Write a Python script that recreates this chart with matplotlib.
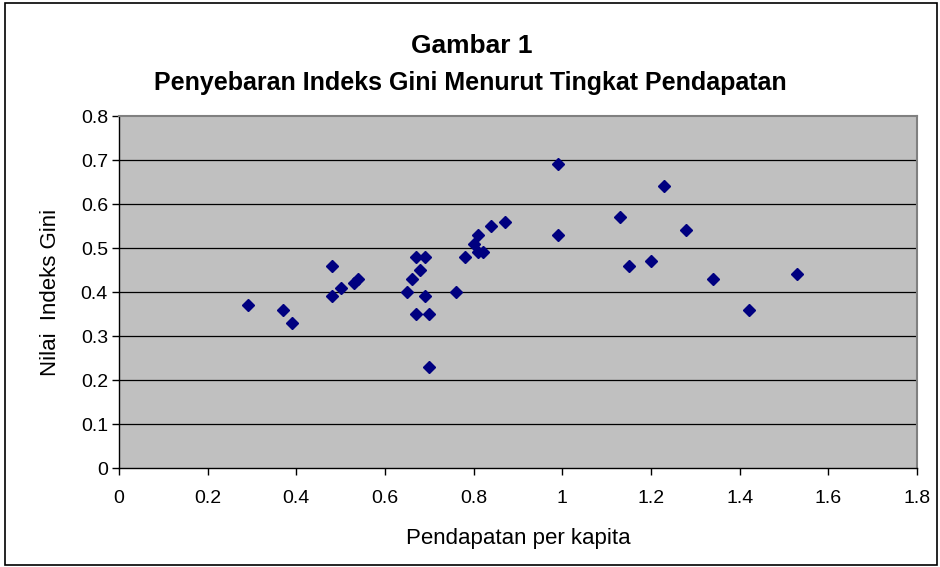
import matplotlib
matplotlib.use("Agg")
import matplotlib.pyplot as plt
from matplotlib.patches import Rectangle

plt.rcParams['font.family'] = ['Liberation Sans', 'DejaVu Sans']

income = [0.29, 0.37, 0.39, 0.48, 0.48, 0.50, 0.54, 0.53, 0.65, 0.67, 0.69, 0.68,
          0.66, 0.69, 0.67, 0.70, 0.70, 0.76, 0.78, 0.80, 0.81, 0.82, 0.81, 0.84,
          0.87, 0.99, 0.99, 1.13, 1.23, 1.28, 1.15, 1.20, 1.34, 1.42, 1.53]
gini = [0.37, 0.36, 0.33, 0.46, 0.39, 0.41, 0.43, 0.42, 0.40, 0.48, 0.48, 0.45,
        0.43, 0.39, 0.35, 0.35, 0.23, 0.40, 0.48, 0.51, 0.49, 0.49, 0.53, 0.55,
        0.56, 0.69, 0.53, 0.57, 0.64, 0.54, 0.46, 0.47, 0.43, 0.36, 0.44]

x_ticks = [0, 0.2, 0.4, 0.6, 0.8, 1.0, 1.2, 1.4, 1.6, 1.8]
x_labels = ['0', '0.2', '0.4', '0.6', '0.8', '1', '1.2', '1.4', '1.6', '1.8']
y_ticks = [0, 0.1, 0.2, 0.3, 0.4, 0.5, 0.6, 0.7, 0.8]
y_labels = ['0', '0.1', '0.2', '0.3', '0.4', '0.5', '0.6', '0.7', '0.8']

fig = plt.figure(figsize=(9.4, 5.67), dpi=100)
fig.patches.append(Rectangle((0.005, 0.003), 0.992, 0.992, transform=fig.transFigure,
                             fill=False, edgecolor='black', linewidth=1.2))

ax = fig.add_axes([0.1266, 0.1746, 0.8489, 0.6208])
ax.set_facecolor('#C0C0C0')
ax.set_xlim(0, 1.8)
ax.set_ylim(0, 0.8)
ax.set_xticks(x_ticks)
ax.set_xticklabels(x_labels)
ax.set_yticks(y_ticks)
ax.set_yticklabels(y_labels)
for yv in y_ticks[1:-1]:
    ax.axhline(yv, color='black', linewidth=0.9, zorder=1)

ax.plot(income, gini, linestyle='none', marker='D', markersize=6.6,
        color='#000080', zorder=3)

for s in ['top', 'right']:
    ax.spines[s].set_color('#808080')
    ax.spines[s].set_linewidth(1.5)
for s in ['left', 'bottom']:
    ax.spines[s].set_color('black')
    ax.spines[s].set_linewidth(1.0)

ax.tick_params(axis='both', direction='out', length=5, width=1, labelsize=14, colors='black')
ax.tick_params(axis='x', pad=11)
ax.tick_params(axis='y', pad=3)

ax.set_xlabel('Pendapatan per kapita', fontsize=16, labelpad=15)
ax.set_ylabel('Nilai  Indeks Gini', fontsize=16, labelpad=14)

fig.text(0.502, 0.9065, 'Gambar 1', ha='center', va='baseline', fontsize=19, fontweight='bold')
fig.text(0.5, 0.8413, 'Penyebaran Indeks Gini Menurut Tingkat Pendapatan', ha='center',
         va='baseline', fontsize=18, fontweight='bold')

fig.savefig('out.png', dpi=100)
